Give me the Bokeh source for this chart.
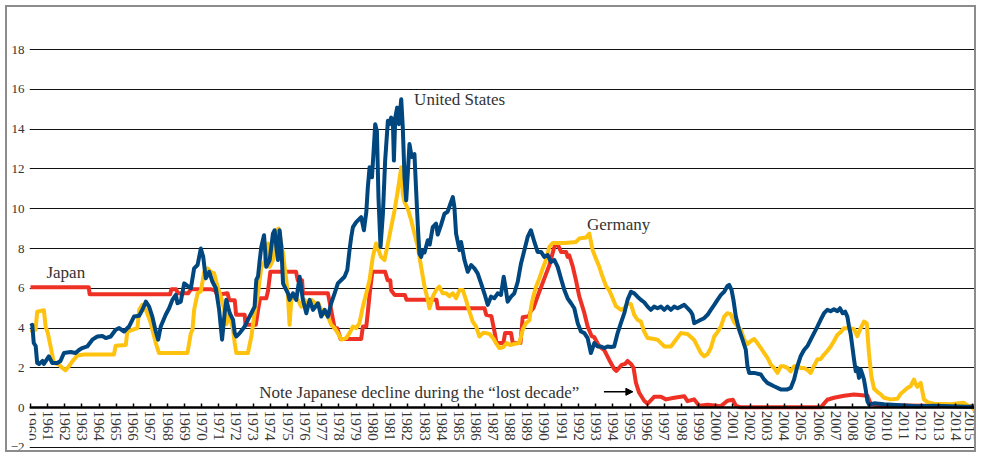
import math
from bokeh.plotting import figure
from bokeh.models import LinearAxis, FixedTicker, Range1d, Label, Arrow, NormalHead
from bokeh.embed import file_html
from bokeh.resources import INLINE

# ---------------- data ----------------
jp_years = [1960.0, 1963.4, 1963.45, 1968.15, 1968.22, 1968.5, 1968.6, 1969.2, 1969.35, 1970.55,
            1970.75, 1970.95, 1971.1, 1971.5, 1971.6, 1971.92, 1972.0, 1972.5, 1972.55, 1973.15,
            1973.28, 1973.4, 1973.76, 1973.86, 1974.0, 1975.5, 1975.6, 1975.85, 1975.9, 1977.36,
            1977.55, 1977.75, 1977.9, 1978.1, 1979.3, 1979.4, 1979.6, 1979.7, 1979.8, 1979.95,
            1980.7, 1980.85, 1981.0, 1981.05, 1981.25, 1981.85, 1981.95, 1983.7, 1983.77, 1986.5,
            1986.6, 1986.9, 1987.1, 1987.2, 1987.6, 1987.7, 1988.05, 1988.15, 1988.6, 1988.73,
            1989.1, 1989.2, 1989.35, 1989.6, 1989.95, 1990.3, 1990.55, 1990.67, 1990.8, 1990.97,
            1991.26, 1991.35, 1991.45, 1991.65, 1991.84, 1992.03, 1992.33, 1992.52, 1992.75, 1992.9,
            1993.2, 1993.49, 1993.78, 1994.07, 1994.2, 1994.5, 1994.7, 1994.85, 1995.05, 1995.2,
            1995.34, 1995.53, 1995.82, 1996.02, 1996.4, 1996.8, 1997.09, 1997.57, 1998.16, 1998.35,
            1998.74, 1999.03, 1999.52, 2000.3, 2000.68, 2001.0, 2001.17, 2001.46, 2006.13, 2006.51,
            2006.9, 2007.49, 2008.07, 2008.85, 2009.04, 2009.5, 2015.16]
jp_rates = [6.05, 6.05, 5.7, 5.7, 5.95, 5.95, 5.75, 5.75, 5.95, 5.95,
            5.9, 5.6, 5.7, 5.75, 5.4, 5.4, 4.67, 4.67, 4.17, 4.17,
            4.9, 5.5, 5.5, 5.85, 6.83, 6.83, 6.4, 6.4, 5.75, 5.75,
            4.9, 4.0, 4.0, 3.45, 3.45, 4.08, 4.08, 4.9, 5.75, 6.83,
            6.83, 6.4, 6.4, 5.9, 5.67, 5.67, 5.42, 5.42, 5.0, 5.0,
            4.67, 4.6, 3.75, 3.25, 3.25, 3.75, 3.75, 3.25, 3.25, 4.55,
            4.6, 4.85, 5.0, 5.6, 6.4, 7.2, 8.0, 8.25, 8.15, 7.83,
            7.83, 7.58, 7.65, 7.1, 6.4, 5.6, 4.75, 4.08, 3.6, 3.55,
            3.08, 2.9, 2.4, 1.95, 1.85, 2.15, 2.2, 2.35, 2.2, 2.0,
            1.25, 0.75, 0.35, 0.2, 0.55, 0.55, 0.42, 0.5, 0.58, 0.33,
            0.42, 0.1, 0.15, 0.08, 0.35, 0.4, 0.1, 0.02, 0.02, 0.4,
            0.5, 0.6, 0.67, 0.6, 0.2, 0.12, 0.08]

us_years = [1960.0, 1960.1, 1960.19, 1960.3, 1960.39, 1960.5, 1960.7, 1960.78, 1961.07, 1961.27,
            1961.56, 1961.75, 1961.95, 1962.34, 1962.63, 1962.83, 1963.02, 1963.31, 1963.61, 1963.9,
            1964.19, 1964.39, 1964.68, 1964.97, 1965.17, 1965.46, 1965.75, 1966.04, 1966.34, 1966.53,
            1966.73, 1966.92, 1967.11, 1967.31, 1967.45, 1967.6, 1967.89, 1968.09, 1968.28, 1968.48,
            1968.58, 1968.77, 1968.97, 1969.16, 1969.36, 1969.55, 1969.75, 1969.94, 1970.08, 1970.23,
            1970.43, 1970.62, 1970.82, 1971.01, 1971.18, 1971.33, 1971.43, 1971.55, 1971.63, 1971.82,
            1971.92, 1972.01, 1972.21, 1972.5, 1972.69, 1972.89, 1973.08, 1973.18, 1973.28, 1973.38,
            1973.47, 1973.63, 1973.76, 1973.96, 1974.15, 1974.25, 1974.35, 1974.44, 1974.54, 1974.64,
            1974.74, 1974.83, 1975.03, 1975.12, 1975.32, 1975.51, 1975.71, 1975.9, 1976.1, 1976.29,
            1976.49, 1976.78, 1976.97, 1977.17, 1977.36, 1977.55, 1977.75, 1977.94, 1978.14, 1978.33,
            1978.49, 1978.62, 1978.72, 1978.82, 1979.01, 1979.3, 1979.46, 1979.6, 1979.69, 1979.79,
            1979.93, 1980.04, 1980.12, 1980.22, 1980.31, 1980.43, 1980.57, 1980.7, 1980.86, 1980.96,
            1981.05, 1981.15, 1981.21, 1981.29, 1981.4, 1981.5, 1981.64, 1981.73, 1981.83, 1981.93,
            1982.02, 1982.12, 1982.25, 1982.41, 1982.51, 1982.61, 1982.7, 1982.8, 1982.9, 1983.0,
            1983.19, 1983.3, 1983.48, 1983.67, 1983.77, 1983.97, 1984.16, 1984.35, 1984.51, 1984.65,
            1984.74, 1984.84, 1985.04, 1985.13, 1985.33, 1985.52, 1985.72, 1985.91, 1986.1, 1986.3,
            1986.49, 1986.69, 1986.88, 1987.07, 1987.27, 1987.46, 1987.62, 1987.72, 1987.85, 1988.05,
            1988.24, 1988.44, 1988.63, 1988.83, 1989.02, 1989.21, 1989.41, 1989.6, 1989.8, 1989.99,
            1990.19, 1990.38, 1990.58, 1990.77, 1990.96, 1991.16, 1991.35, 1991.55, 1991.74, 1991.94,
            1992.13, 1992.33, 1992.52, 1992.71, 1992.91, 1993.1, 1993.3, 1993.49, 1993.68, 1993.88,
            1994.07, 1994.27, 1994.46, 1994.66, 1994.85, 1995.05, 1995.24, 1995.43, 1995.63, 1995.82,
            1996.02, 1996.21, 1996.4, 1996.6, 1996.8, 1996.99, 1997.18, 1997.38, 1997.57, 1997.77,
            1997.96, 1998.16, 1998.35, 1998.54, 1998.64, 1998.74, 1998.93, 1999.13, 1999.32, 1999.52,
            1999.71, 1999.91, 2000.1, 2000.3, 2000.49, 2000.68, 2000.78, 2000.92, 2001.03, 2001.17,
            2001.36, 2001.56, 2001.75, 2001.85, 2001.95, 2002.24, 2002.63, 2002.82, 2003.01, 2003.4,
            2003.79, 2004.18, 2004.38, 2004.57, 2004.76, 2004.96, 2005.15, 2005.35, 2005.54, 2005.93,
            2006.12, 2006.32, 2006.51, 2006.7, 2006.9, 2007.1, 2007.25, 2007.4, 2007.55, 2007.68,
            2007.78, 2007.88, 2007.97, 2008.07, 2008.17, 2008.27, 2008.36, 2008.46, 2008.55, 2008.65,
            2008.75, 2008.85, 2008.94, 2009.24, 2009.82, 2010.79, 2011.76, 2012.73, 2013.71, 2014.68,
            2015.16]
us_rates = [4.1, 4.17, 3.25, 3.1, 2.25, 2.2, 2.35, 2.2, 2.58, 2.25,
            2.25, 2.35, 2.75, 2.8, 2.75, 2.9, 3.0, 3.08, 3.42, 3.58,
            3.6, 3.5, 3.58, 3.92, 4.0, 3.83, 4.08, 4.58, 4.62, 4.92,
            5.33, 5.08, 4.58, 3.83, 3.42, 4.08, 4.67, 5.0, 5.42, 5.67,
            5.25, 5.33, 6.25, 6.12, 6.0, 7.0, 7.17, 8.0, 7.58, 6.5,
            6.83, 6.33, 6.0, 4.92, 3.42, 4.75, 5.42, 5.0, 4.75, 4.42,
            3.75, 3.58, 3.75, 4.08, 4.42, 4.75, 5.08, 6.42, 6.6, 7.42,
            8.08, 8.67, 7.08, 7.42, 8.75, 8.92, 8.08, 7.42, 8.92, 8.08,
            6.25, 6.08, 5.75, 5.42, 5.75, 5.42, 6.58, 5.42, 4.75, 5.42,
            4.92, 5.25, 4.58, 4.92, 4.58, 5.25, 5.75, 6.25, 6.42, 6.58,
            6.92, 7.92, 8.58, 9.08, 9.33, 9.58, 8.92, 9.83, 11.08, 12.08,
            11.58, 13.08, 14.25, 13.9, 10.58, 8.08, 9.75, 12.42, 14.42, 14.25,
            14.58, 14.42, 12.42, 14.58, 15.08, 14.25, 15.5, 14.08, 11.58, 10.42,
            11.75, 13.25, 12.6, 12.75, 10.9, 9.08, 7.75, 7.58, 7.9, 7.8,
            8.42, 8.2, 9.08, 9.25, 8.7, 9.2, 9.75, 9.85, 10.25, 10.58,
            10.1, 8.75, 7.92, 8.33, 7.42, 6.83, 7.17, 7.0, 6.75, 6.25,
            5.75, 5.17, 5.58, 5.5, 5.75, 5.67, 6.58, 6.08, 5.33, 5.58,
            5.75, 6.33, 7.25, 7.92, 8.58, 8.92, 8.33, 7.83, 7.83, 7.58,
            7.67, 7.33, 7.42, 7.08, 6.5, 5.92, 5.5, 5.25, 5.0, 4.25,
            3.83, 3.75, 3.5, 2.75, 3.25, 3.08, 3.08, 3.0, 3.08, 3.05,
            3.08, 3.75, 4.25, 4.75, 5.42, 5.83, 5.75, 5.58, 5.42, 5.3,
            5.08, 4.92, 5.08, 5.0, 5.08, 4.92, 5.08, 4.92, 5.08, 5.0,
            5.08, 5.17, 5.0, 4.83, 4.67, 4.25, 4.33, 4.42, 4.5, 4.67,
            4.92, 5.17, 5.42, 5.67, 5.83, 6.12, 6.17, 5.92, 5.42, 4.58,
            3.92, 3.42, 2.92, 2.08, 1.75, 1.75, 1.67, 1.42, 1.25, 1.08,
            0.92, 0.92, 1.0, 1.42, 2.08, 2.6, 2.9, 3.1, 3.42, 4.08,
            4.42, 4.75, 4.92, 4.85, 4.95, 4.85, 5.0, 4.75, 4.83, 4.58,
            4.08, 3.67, 3.08, 2.42, 1.83, 2.0, 1.5, 1.92, 1.7, 1.42,
            0.92, 0.33, 0.17, 0.22, 0.17, 0.12, 0.08, 0.1, 0.08, 0.05,
            0.05]

de_years = [1960.0, 1960.2, 1960.29, 1960.39, 1960.78, 1960.88, 1961.01, 1961.17, 1961.36, 1961.66,
            1961.85, 1962.05, 1962.24, 1962.44, 1962.73, 1963.12, 1964.87, 1964.97, 1965.56, 1965.65,
            1966.24, 1966.34, 1966.53, 1966.73, 1967.02, 1967.31, 1967.5, 1969.16, 1969.36, 1969.45,
            1969.55, 1969.75, 1969.94, 1970.14, 1970.33, 1970.53, 1970.72, 1970.92, 1971.11, 1971.31,
            1971.43, 1971.6, 1971.82, 1971.92, 1972.01, 1972.69, 1972.89, 1973.08, 1973.28, 1973.47,
            1973.66, 1973.86, 1973.96, 1974.15, 1974.35, 1974.48, 1974.6, 1974.74, 1974.83, 1974.93,
            1975.03, 1975.12, 1975.22, 1975.42, 1975.6, 1975.8, 1976.0, 1976.2, 1976.4, 1976.6,
            1976.8, 1976.97, 1977.17, 1977.36, 1977.55, 1977.75, 1977.94, 1978.14, 1978.43, 1978.62,
            1978.82, 1979.01, 1979.2, 1979.4, 1979.6, 1979.79, 1979.98, 1980.17, 1980.46, 1980.66,
            1980.86, 1981.05, 1981.25, 1981.44, 1981.64, 1981.73, 1981.83, 1982.02, 1982.22, 1982.41,
            1982.61, 1982.8, 1983.0, 1983.19, 1983.29, 1983.48, 1983.68, 1983.86, 1984.06, 1984.26,
            1984.45, 1984.65, 1984.84, 1985.04, 1985.23, 1985.42, 1985.62, 1985.81, 1986.01, 1986.2,
            1986.4, 1986.6, 1986.8, 1987.0, 1987.17, 1987.37, 1987.6, 1987.8, 1988.0, 1988.2,
            1988.54, 1988.73, 1988.92, 1989.12, 1989.22, 1989.35, 1989.51, 1989.7, 1989.9, 1990.09,
            1990.28, 1990.48, 1991.2, 1991.84, 1992.03, 1992.42, 1992.62, 1992.81, 1993.0, 1993.2,
            1993.39, 1993.6, 1993.78, 1993.98, 1994.17, 1994.46, 1994.66, 1994.85, 1995.05, 1995.24,
            1995.43, 1995.63, 1995.82, 1996.02, 1996.4, 1996.6, 1996.99, 1997.38, 1997.96, 1998.35,
            1998.74, 1998.93, 1999.13, 1999.32, 1999.52, 1999.71, 1999.91, 2000.1, 2000.3, 2000.49,
            2000.68, 2000.87, 2001.07, 2001.27, 2001.46, 2001.66, 2001.85, 2002.05, 2002.24, 2002.43,
            2002.63, 2002.82, 2003.02, 2003.21, 2003.4, 2003.6, 2003.79, 2003.98, 2004.18, 2004.37,
            2004.57, 2004.76, 2004.96, 2005.15, 2005.35, 2005.54, 2005.73, 2005.93, 2006.12, 2006.32,
            2006.51, 2006.71, 2006.9, 2007.1, 2007.29, 2007.49, 2007.68, 2007.88, 2008.07, 2008.26,
            2008.46, 2008.65, 2008.81, 2008.94, 2009.08, 2009.24, 2009.43, 2009.63, 2009.82, 2010.21,
            2010.6, 2010.79, 2011.0, 2011.2, 2011.37, 2011.57, 2011.66, 2011.76, 2011.96, 2012.15,
            2012.35, 2012.73, 2013.71, 2014.2, 2014.48, 2014.68, 2014.9, 2015.16]
de_rates = [3.8, 3.9, 3.92, 4.83, 4.9, 4.08, 3.75, 3.08, 2.25, 2.17,
            2.0, 1.88, 2.08, 2.33, 2.62, 2.67, 2.67, 3.12, 3.15, 3.83,
            4.0, 4.92, 5.17, 4.92, 4.25, 3.25, 2.75, 2.75, 3.75, 3.9,
            4.92, 5.75, 5.85, 6.83, 7.0, 6.83, 6.75, 6.08, 5.58, 4.92,
            4.2, 4.7, 3.92, 3.25, 2.75, 2.75, 3.58, 4.75, 5.75, 7.08,
            7.33, 8.25, 7.08, 7.42, 8.92, 9.0, 8.4, 7.75, 7.08, 6.42,
            5.58, 4.17, 5.42, 5.58, 5.42, 5.08, 5.42, 5.08, 5.42, 5.25,
            5.25, 4.92, 4.75, 4.58, 4.17, 4.0, 3.75, 3.42, 3.5, 3.75,
            4.08, 4.0, 4.25, 5.08, 5.75, 6.42, 7.58, 8.25, 7.58, 7.42,
            8.25, 9.08, 9.92, 10.92, 12.08, 10.75, 10.33, 10.0, 9.42, 8.75,
            8.08, 7.08, 6.08, 5.42, 5.0, 5.58, 5.92, 6.08, 5.75, 5.75,
            5.6, 5.75, 5.5, 5.92, 5.92, 5.42, 4.83, 4.33, 4.08, 3.58,
            3.75, 3.75, 3.7, 3.5, 3.25, 3.0, 3.05, 3.25, 3.15, 3.2,
            3.25, 3.92, 4.25, 4.4, 5.08, 5.6, 6.08, 6.5, 7.0, 7.42,
            8.08, 8.28, 8.28, 8.33, 8.5, 8.55, 8.75, 7.92, 7.5, 7.08,
            6.58, 6.1, 5.9, 5.5, 5.1, 4.92, 5.0, 5.25, 5.2, 4.67,
            4.42, 4.33, 3.83, 3.5, 3.45, 3.42, 3.08, 3.08, 3.75, 3.7,
            3.4, 3.08, 2.75, 2.58, 2.7, 3.0, 3.58, 3.8, 4.08, 4.58,
            4.75, 4.7, 4.3, 4.08, 3.92, 3.42, 3.2, 3.35, 3.45, 3.25,
            3.0, 2.75, 2.5, 2.17, 2.0, 1.75, 2.08, 2.08, 2.0, 1.83,
            2.08, 2.1, 2.0, 2.0, 1.9, 1.75, 2.1, 2.42, 2.45, 2.67,
            2.85, 3.08, 3.35, 3.67, 3.8, 4.0, 4.0, 4.0, 3.95, 3.6,
            4.0, 4.33, 4.25, 2.75, 1.58, 0.95, 0.8, 0.67, 0.5, 0.42,
            0.45, 0.7, 0.85, 1.0, 1.08, 1.42, 1.2, 1.05, 1.25, 0.42,
            0.28, 0.2, 0.17, 0.22, 0.25, 0.12, 0.05, -0.15]

year_ticks = list(range(1960, 2016))
value_ticks = [-2, 0, 2, 4, 6, 8, 10, 12, 14, 16, 18]

# label positions (data space)
series_labels = [("Japan", 1960.93, 6.78), ("United States", 1982.39, 15.48), ("Germany", 1992.48, 9.2)]
note_text = "Note Japanese decline during the \u201clost decade\u201d"
note_pos = (1973.35, 0.75)
arrow_pos = (1993.47, 0.8, 1995.16, 0.8)

NAVY = "#00467f"
YELLOW = "#ffc20e"
RED = "#ee3124"
TXT = "#333333"
FONT = "Liberation Serif"

p = figure(width=971, height=447, output_backend="svg", toolbar_location=None,
           x_range=Range1d(1959.94, 2015.16), y_range=Range1d(-2.35, 19.86),
           x_axis_location=None, margin=(5, 0, 0, 5),
           min_border_left=21, min_border_right=3, min_border_top=5, min_border_bottom=0,
           styles={"border": "2px solid #8c8c8c"})
p.outline_line_color = None
p.background_fill_color = "white"
p.border_fill_color = "white"

# y axis
p.yaxis.ticker = FixedTicker(ticks=value_ticks)
p.yaxis.axis_line_color = None
p.yaxis.major_tick_line_color = None
p.yaxis.major_tick_in = 0
p.yaxis.major_tick_out = 0
p.yaxis.minor_tick_line_color = None
p.yaxis.minor_tick_in = 0
p.yaxis.minor_tick_out = 0
p.yaxis.major_label_text_font = FONT
p.yaxis.major_label_text_font_size = "13px"
p.yaxis.major_label_text_color = TXT
p.yaxis.major_label_standoff = 5

p.xgrid.visible = False
p.ygrid.ticker = FixedTicker(ticks=value_ticks)
p.ygrid.grid_line_color = "#111111"
p.ygrid.grid_line_width = 1

# lines
p.line(jp_years, jp_rates, line_color=RED, line_width=4, line_join="round")
p.line(de_years, de_rates, line_color=YELLOW, line_width=4, line_join="round")
p.line(us_years, us_rates, line_color=NAVY, line_width=4, line_join="round")

# x axis through zero
xa = LinearAxis(fixed_location=0, ticker=FixedTicker(ticks=year_ticks))
xa.axis_line_color = "black"
xa.axis_line_width = 2.5
xa.major_tick_line_color = "black"
xa.major_tick_line_width = 1.5
xa.major_tick_in = 4
xa.major_tick_out = 0
xa.minor_tick_line_color = None
xa.major_label_orientation = -math.pi / 2
xa.major_label_text_font = FONT
xa.major_label_text_font_size = "15px"
xa.major_label_text_color = TXT
xa.major_label_standoff = 3
p.add_layout(xa, "below")

for txt, lx, ly in series_labels:
    p.add_layout(Label(x=lx, y=ly, text=txt, text_font=FONT, text_font_size="17px",
                       text_color=TXT, text_baseline="middle", text_align="left"))
p.add_layout(Label(x=note_pos[0], y=note_pos[1], text=note_text, text_font=FONT,
                   text_font_size="17px", text_color=TXT, text_baseline="middle", text_align="left"))
p.add_layout(Arrow(x_start=arrow_pos[0], y_start=arrow_pos[1], x_end=arrow_pos[2], y_end=arrow_pos[3],
                   line_color="black", line_width=1.5,
                   end=NormalHead(size=7, fill_color="black", line_color="black")))

open("out.html", "w").write(file_html(p, INLINE))
